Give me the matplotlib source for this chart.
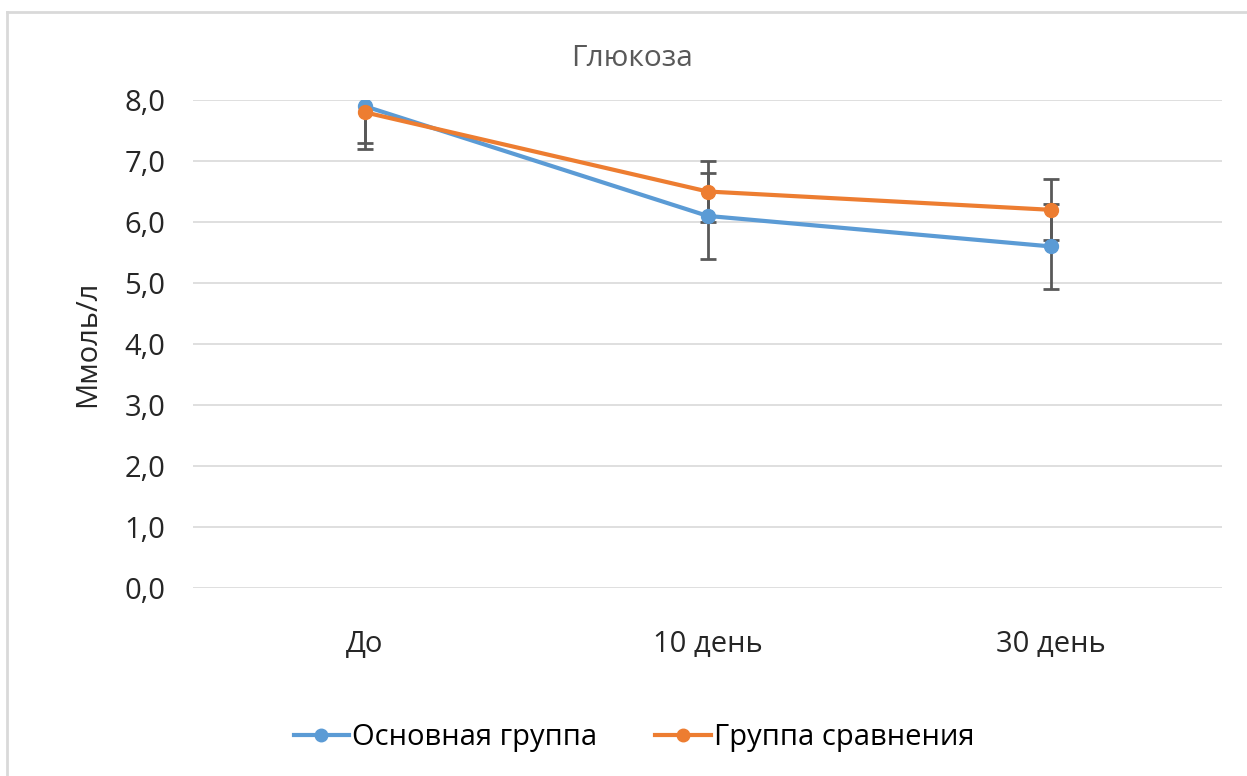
import matplotlib
matplotlib.use("Agg")
import matplotlib.pyplot as plt
from matplotlib.lines import Line2D

plt.rcParams['font.family'] = ['Open Sans', 'DejaVu Sans']

categories = ["До", "10 день", "30 день"]
main_values = [7.9, 6.1, 5.6]
main_err = [0.7, 0.7, 0.7]
comp_values = [7.8, 6.5, 6.2]
comp_err = [0.5, 0.5, 0.5]
yticks = [0, 1, 2, 3, 4, 5, 6, 7, 8]
ytick_labels = ["0,0", "1,0", "2,0", "3,0", "4,0", "5,0", "6,0", "7,0", "8,0"]

W, H = 1247, 776
fig = plt.figure(figsize=(W / 100, H / 100), dpi=100)
ax = fig.add_axes([193 / W, 1 - 588 / H, (1222 - 193) / W, (588 - 100) / H])

blue = "#5B9BD5"
orange = "#ED7D31"
ecol = "#595959"
x = list(range(len(categories)))

for vals, errs, col, z in [(main_values, main_err, blue, 3), (comp_values, comp_err, orange, 4)]:
    ax.errorbar(x, vals, yerr=errs, fmt='none', ecolor=ecol, elinewidth=2, capsize=5.5,
                capthick=2, zorder=z - 1)
    ax.plot(x, vals, color=col, lw=3, marker='o', markersize=10, zorder=z + 2,
            solid_capstyle='round')

ax.set_xlim(-0.5, 2.5)
ax.set_ylim(0, 8)
ax.set_yticks(yticks)
ax.set_yticklabels(ytick_labels)
ax.set_xticks(x)
ax.set_xticklabels(categories)
ax.tick_params(axis='both', length=0, labelsize=21, colors='#262626')
ax.tick_params(axis='y', pad=20)
ax.tick_params(axis='x', pad=30)
ax.grid(axis='y', color='#d9d9d9', lw=1.2)
ax.set_axisbelow(True)
for s in ax.spines.values():
    s.set_visible(False)

ax.set_ylabel("Ммоль/л", fontsize=21, color='#262626', labelpad=16)
fig.text(632 / W, 1 - 58 / H, "Глюкоза", ha='center', va='center', fontsize=21.5, color='#595959')

handles = [Line2D([0], [0], color=blue, lw=3, marker='o', markersize=9),
           Line2D([0], [0], color=orange, lw=3, marker='o', markersize=9)]
fig.legend(handles, ["Основная группа", "Группа сравнения"], loc='center',
           bbox_to_anchor=(634 / W, 1 - 738 / H), ncol=2, frameon=False, fontsize=21,
           handlelength=1.9, handletextpad=0.1, columnspacing=2.0)

# chart area border
fig.add_artist(Line2D([6.5 / W, 6.5 / W], [0, 1 - 12 / H], color='#d9d9d9', lw=2))
fig.add_artist(Line2D([6.5 / W, 1], [1 - 12 / H, 1 - 12 / H], color='#d9d9d9', lw=2))

fig.savefig("out.png", dpi=100)
